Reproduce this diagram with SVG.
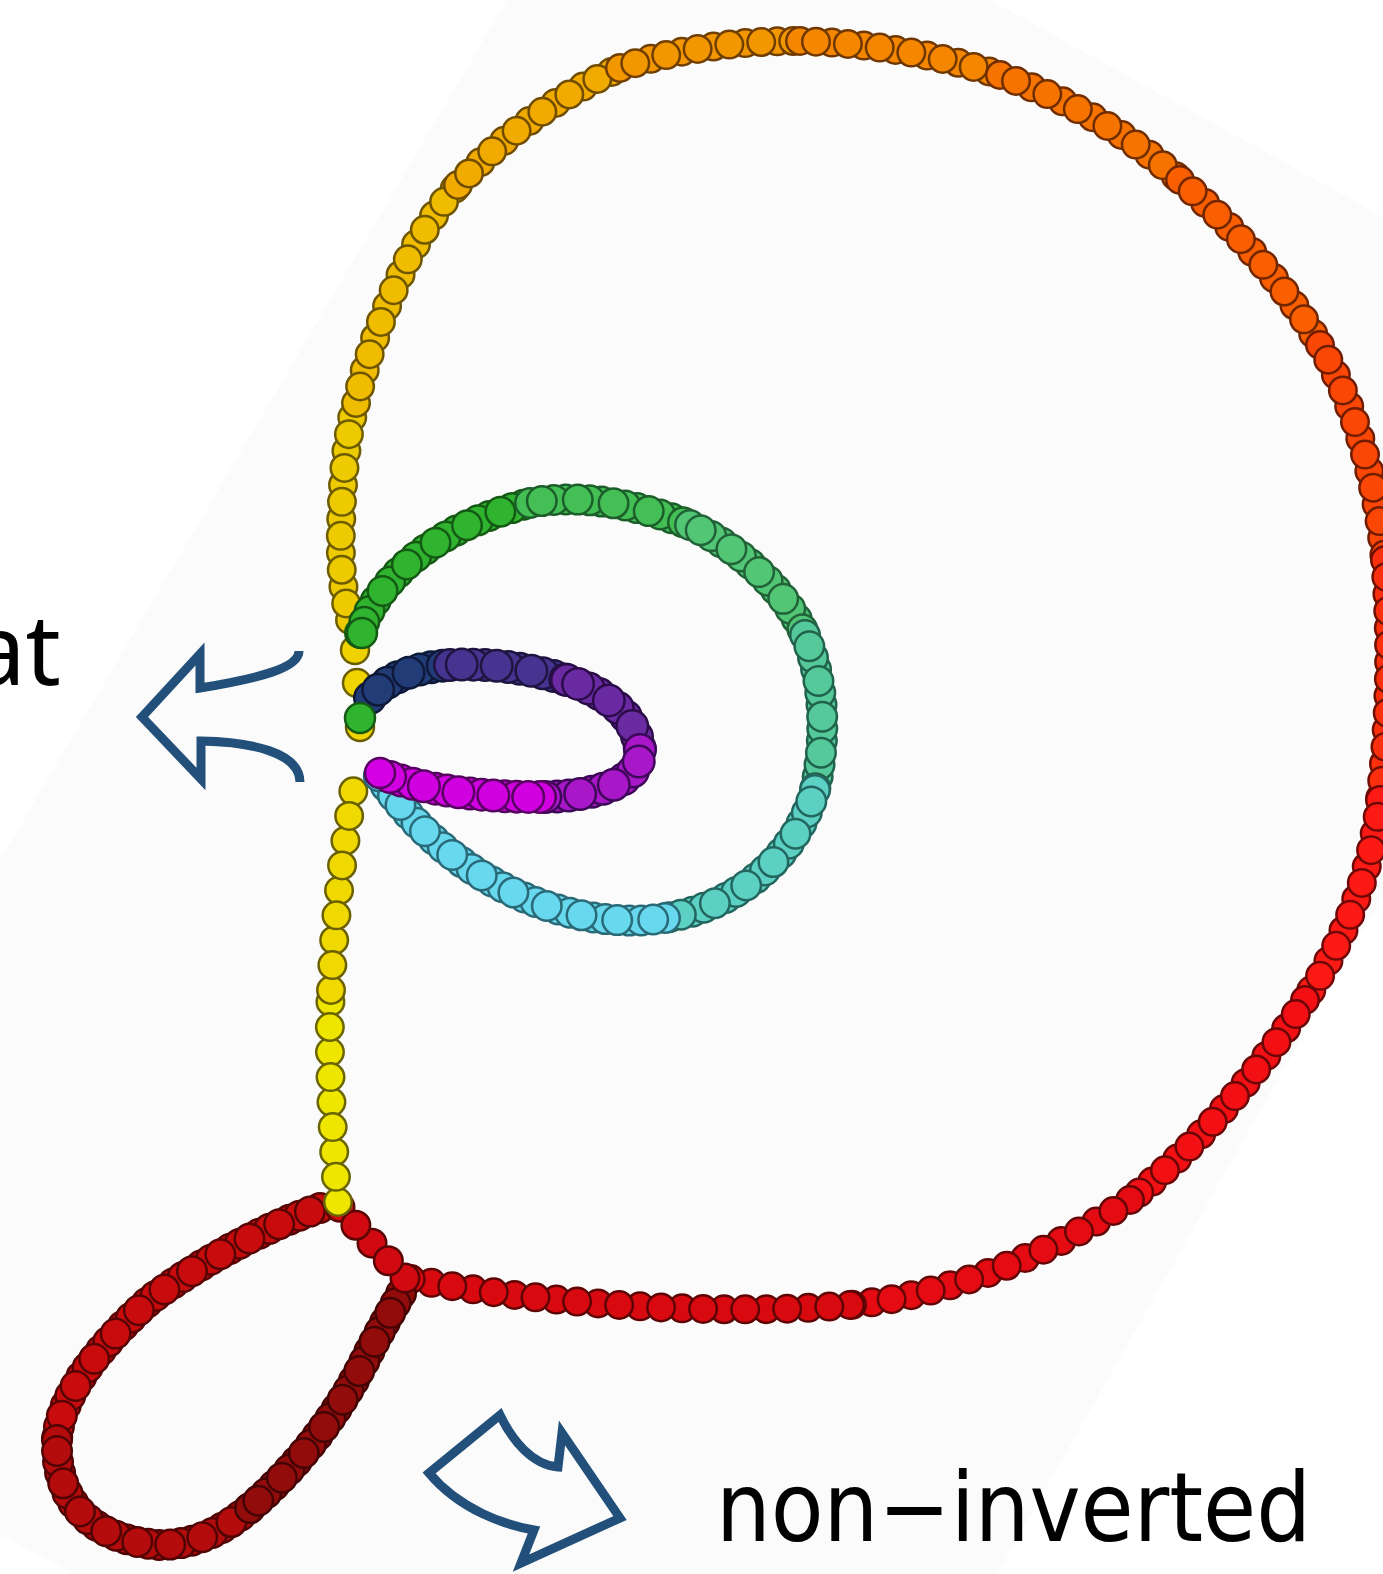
<svg xmlns="http://www.w3.org/2000/svg" xmlns:xlink="http://www.w3.org/1999/xlink" width="1383" height="1574" viewBox="0 0 1383 1574">
<style>
.a{fill:none;stroke-linecap:round;stroke:var(--k);stroke-width:var(--o);stroke-dasharray:var(--s)}
.b{fill:none;stroke-linecap:round;stroke:var(--c);stroke-width:var(--i);stroke-dasharray:var(--s)}
.c{fill:none;stroke-linecap:round;stroke:var(--k);stroke-width:var(--o);stroke-dasharray:var(--s);stroke-dashoffset:var(--h)}
.d{fill:none;stroke-linecap:round;stroke:var(--c);stroke-width:var(--i);stroke-dasharray:var(--s);stroke-dashoffset:var(--h)}
.e{fill:none;stroke-linecap:round;stroke:var(--k);stroke-width:var(--o);stroke-dasharray:var(--s);stroke-dashoffset:var(--h2)}
.f{fill:none;stroke-linecap:round;stroke:var(--c);stroke-width:var(--i);stroke-dasharray:var(--s);stroke-dashoffset:var(--h2)}
.bead{stroke-width:2.5}
.arrow{fill:none;stroke:#22507a;stroke-width:9;stroke-linejoin:miter;stroke-miterlimit:10}
.lbl{fill:#000}
</style>
<defs>
<path id="s1" d="M350,620 C342,590 340,560 341,527 C342,490 345,440 356,403"/>
<path id="s2" d="M356,403 C366,360 385,305 410,255 C425,228 440,205 458,185"/>
<path id="s3" d="M458,185 C500,140 550,100 620,68"/>
<path id="s4" d="M620,68 C680,48 740,41 800,41"/>
<path id="s5" d="M800,41 C870,43 940,55 1000,75"/>
<path id="s6" d="M1000,75 C1070,100 1130,135 1180,180"/>
<path id="s7" d="M1180,180 C1235,228 1285,285 1320,345"/>
<path id="s8" d="M1320,345 C1350,395 1375,470 1385,560"/>
<path id="s9" d="M1385,560 C1392,640 1390,720 1380,800"/>
<path id="s10" d="M1380,800 C1372,870 1345,940 1305,1000"/>
<path id="s11" d="M1305,1000 C1260,1070 1200,1145 1130,1200"/>
<path id="s12" d="M1130,1200 C1050,1255 950,1295 850,1305"/>
<path id="s13" d="M850,1305 C700,1318 520,1300 405,1278"/>
<path id="s14" d="M405,1278 C385,1258 360,1230 338,1205"/>
<path id="r1" d="M320,1208 C270,1225 200,1262 150,1300 C100,1345 60,1395 57,1440"/>
<path id="r2" d="M57,1440 C55,1500 90,1540 160,1545 C200,1545 230,1525 250,1508"/>
<path id="r3" d="M250,1508 C300,1465 340,1410 365,1360 C380,1330 395,1305 403,1290"/>
<path id="y1" d="M338,1202 C331,1120 328,1040 331,990"/>
<path id="y2" d="M331,990 C334,920 345,830 358,767"/>
<path id="g1" d="M360,633 C378,580 432,528 530,503"/>
<path id="g2" d="M530,503 C580,493 640,505 690,525"/>
<path id="g3" d="M690,525 C740,548 785,590 805,635"/>
<path id="g4" d="M805,635 C826,685 826,740 815,790"/>
<path id="g5" d="M815,790 C798,850 745,905 665,918"/>
<path id="g6" d="M665,918 C580,932 455,890 378,775"/>
<path id="i1" d="M370,698 C385,680 410,668 450,665"/>
<path id="i2" d="M450,665 C490,663 530,668 567,680"/>
<path id="i3" d="M567,680 C605,692 636,715 640,750"/>
<path id="i4" d="M640,750 C643,780 600,797 540,797"/>
<path id="i5" d="M540,797 C480,797 420,790 380,773"/>
</defs>
<rect width="1383" height="1574" fill="#ffffff"/>
<polygon id="backdrop" points="507,0 990,0 1383,217 1383,895 997,1574 75,1574 0,1535 0,860" fill="#fbfbfb"/>

<g id="labels" font-size="96">
<text class="lbl" x="61" y="685" text-anchor="end" font-family="'Noto Sans','DejaVu Sans',sans-serif" font-size="98">at</text>
<text class="lbl" x="716" y="1541" font-family="'DejaVu Sans Condensed','DejaVu Sans',sans-serif" textLength="595" lengthAdjust="spacingAndGlyphs">non−inverted</text>
</g>

<g id="arrows">
<path id="arrow-left" class="arrow" d="M299,651 C299,668 260,678 200,688 L200,654 L142,717 L201,779 L201,741 C250,742 300,752 300,782"/>
<path id="arrow-down" class="arrow" stroke-width="7" d="M429,1473 L500,1415 C512,1440 532,1465 558,1467 L562,1433 L620,1518 L521,1563 L534,1530 C505,1525 460,1510 429,1473 Z"/>
</g>

<g id="outer-loop" style="--o:30px;--i:25px;--s:0 34;--h:17">
<g style="--c:#eecb00;--k:#6e5c00"><use href="#s1" class="a"/><use href="#s1" class="b"/><use href="#s1" class="c"/><use href="#s1" class="d"/></g>
<g style="--c:#efbc00;--k:#6e5500"><use href="#s2" class="a"/><use href="#s2" class="b"/><use href="#s2" class="c"/><use href="#s2" class="d"/></g>
<g style="--c:#f1aa00;--k:#704c00;--s:0 32;--h:16"><use href="#s3" class="a"/><use href="#s3" class="b"/><use href="#s3" class="c"/><use href="#s3" class="d"/></g>
<g style="--c:#f39700;--k:#703f00;--s:0 32;--h:16"><use href="#s4" class="a"/><use href="#s4" class="b"/><use href="#s4" class="c"/><use href="#s4" class="d"/></g>
<g style="--c:#f58600;--k:#703800;--s:0 32;--h:16"><use href="#s5" class="a"/><use href="#s5" class="b"/><use href="#s5" class="c"/><use href="#s5" class="d"/></g>
<g style="--c:#f77300;--k:#702e00"><use href="#s6" class="a"/><use href="#s6" class="b"/><use href="#s6" class="c"/><use href="#s6" class="d"/></g>
<g style="--c:#f95e00;--k:#702600"><use href="#s7" class="a"/><use href="#s7" class="b"/><use href="#s7" class="c"/><use href="#s7" class="d"/></g>
<g style="--c:#fb4705;--k:#701c00"><use href="#s8" class="a"/><use href="#s8" class="b"/><use href="#s8" class="c"/><use href="#s8" class="d"/></g>
<g style="--c:#fd2f0c;--k:#701000"><use href="#s9" class="a"/><use href="#s9" class="b"/><use href="#s9" class="c"/><use href="#s9" class="d"/></g>
<g style="--c:#fe1a14;--k:#700808"><use href="#s10" class="a"/><use href="#s10" class="b"/><use href="#s10" class="c"/><use href="#s10" class="d"/></g>
<g style="--c:#f21014;--k:#6a0606"><use href="#s11" class="a"/><use href="#s11" class="b"/><use href="#s11" class="c"/><use href="#s11" class="d"/></g>
<g style="--c:#e40c12;--k:#640606;--s:0 40;--h:20"><use href="#s12" class="a"/><use href="#s12" class="b"/><use href="#s12" class="c"/><use href="#s12" class="d"/></g>
<g style="--c:#d80a10;--k:#5e0404;--s:0 42;--h:21"><use href="#s13" class="a"/><use href="#s13" class="b"/><use href="#s13" class="c"/><use href="#s13" class="d"/></g>
</g>

<g id="red-loop" style="--o:32px;--i:27px;--s:0 33;--h:11;--h2:22">
<g style="--c:#c80c0e;--k:#560404"><use href="#r1" class="a"/><use href="#r1" class="b"/><use href="#r1" class="c"/><use href="#r1" class="d"/><use href="#r1" class="e"/><use href="#r1" class="f"/></g>
<g style="--c:#b40b0c;--k:#500404"><use href="#r2" class="a"/><use href="#r2" class="b"/><use href="#r2" class="c"/><use href="#r2" class="d"/><use href="#r2" class="e"/><use href="#r2" class="f"/></g>
<g style="--c:#930c0c;--k:#440404"><use href="#r3" class="a"/><use href="#r3" class="b"/><use href="#r3" class="c"/><use href="#r3" class="d"/><use href="#r3" class="e"/><use href="#r3" class="f"/></g>
</g>

<g id="junction" style="--o:31px;--i:26px;--s:0 48;--h:24;--c:#d00a10;--k:#5a0404">
<use href="#s14" class="a"/><use href="#s14" class="b"/><use href="#s14" class="c"/><use href="#s14" class="d"/>
</g>

<g id="yellow-stem" style="--o:30px;--i:25px;--s:0 50;--h:25">
<g style="--c:#efe600;--k:#6a6500"><use href="#y1" class="a"/><use href="#y1" class="b"/><use href="#y1" class="c"/><use href="#y1" class="d"/></g>
<g style="--c:#efd900;--k:#6a6000"><use href="#y2" class="a"/><use href="#y2" class="b"/><use href="#y2" class="c"/><use href="#y2" class="d"/></g>
<circle class="bead" cx="360" cy="727" r="14" fill="#efd400" stroke="#6a5e00"/>
<circle class="bead" cx="357" cy="683" r="14" fill="#efd400" stroke="#6a5e00"/>
<circle class="bead" cx="355" cy="650" r="14" fill="#efd200" stroke="#6a5e00"/>
</g>

<g id="green-arc" style="--o:32px;--i:27px;--s:0 36;--h:12;--h2:24">
<g style="--c:#30b430;--k:#145a14"><use href="#g1" class="a"/><use href="#g1" class="b"/><use href="#g1" class="c"/><use href="#g1" class="d"/><use href="#g1" class="e"/><use href="#g1" class="f"/></g>
<g style="--c:#44bf55;--k:#1c5e2a"><use href="#g2" class="a"/><use href="#g2" class="b"/><use href="#g2" class="c"/><use href="#g2" class="d"/><use href="#g2" class="e"/><use href="#g2" class="f"/></g>
<g style="--c:#52c675;--k:#216238"><use href="#g3" class="a"/><use href="#g3" class="b"/><use href="#g3" class="c"/><use href="#g3" class="d"/><use href="#g3" class="e"/><use href="#g3" class="f"/></g>
<g style="--c:#56c99a;--k:#21624c"><use href="#g4" class="a"/><use href="#g4" class="b"/><use href="#g4" class="c"/><use href="#g4" class="d"/><use href="#g4" class="e"/><use href="#g4" class="f"/></g>
<g style="--c:#5cd0c2;--k:#236660"><use href="#g5" class="a"/><use href="#g5" class="b"/><use href="#g5" class="c"/><use href="#g5" class="d"/><use href="#g5" class="e"/><use href="#g5" class="f"/></g>
<g style="--c:#68d8ee;--k:#2a6a78"><use href="#g6" class="a"/><use href="#g6" class="b"/><use href="#g6" class="c"/><use href="#g6" class="d"/><use href="#g6" class="e"/><use href="#g6" class="f"/></g>
<circle class="bead" cx="362" cy="633" r="15" fill="#30b430" stroke="#145a14"/>
</g>

<g id="inner-loop" style="--o:34px;--i:29px;--s:0 35;--h:11.7;--h2:23.3">
<g style="--c:#223c78;--k:#0e1838"><use href="#i1" class="a"/><use href="#i1" class="b"/><use href="#i1" class="c"/><use href="#i1" class="d"/><use href="#i1" class="e"/><use href="#i1" class="f"/></g>
<g style="--c:#463590;--k:#1e1440"><use href="#i2" class="a"/><use href="#i2" class="b"/><use href="#i2" class="c"/><use href="#i2" class="d"/><use href="#i2" class="e"/><use href="#i2" class="f"/></g>
<g style="--c:#6a2ba2;--k:#2c0c48"><use href="#i3" class="a"/><use href="#i3" class="b"/><use href="#i3" class="c"/><use href="#i3" class="d"/><use href="#i3" class="e"/><use href="#i3" class="f"/></g>
<g style="--c:#a818c8;--k:#3e0858"><use href="#i4" class="a"/><use href="#i4" class="b"/><use href="#i4" class="c"/><use href="#i4" class="d"/><use href="#i4" class="e"/><use href="#i4" class="f"/></g>
<g style="--c:#d000e0;--k:#560060"><use href="#i5" class="a"/><use href="#i5" class="b"/><use href="#i5" class="c"/><use href="#i5" class="d"/><use href="#i5" class="e"/><use href="#i5" class="f"/></g>
<circle class="bead" cx="360" cy="718" r="15" fill="#30b430" stroke="#145a14"/>
<circle class="bead" cx="380" cy="773" r="15" fill="#d400e4" stroke="#560060"/>
</g>
</svg>
